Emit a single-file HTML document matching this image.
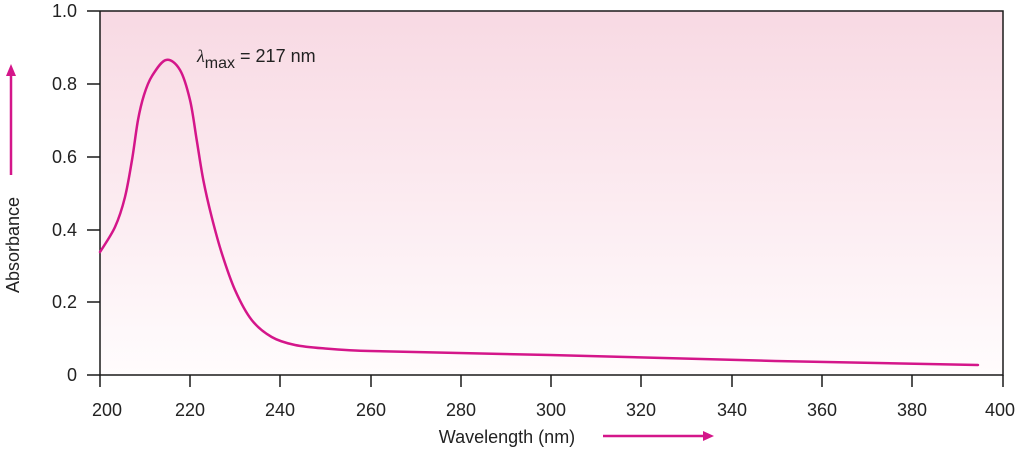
<!DOCTYPE html>
<html><head><meta charset="utf-8"><style>
html,body{margin:0;padding:0;background:#fff;}
svg{display:block;font-family:"Liberation Sans","DejaVu Sans",sans-serif;}
</style></head><body>
<svg width="1024" height="450" viewBox="0 0 1024 450" xmlns="http://www.w3.org/2000/svg">
<defs>
<linearGradient id="bg" x1="0" y1="0" x2="0" y2="1">
<stop offset="0" stop-color="#f8d9e3"/>
<stop offset="1" stop-color="#fffcfd"/>
</linearGradient>
</defs>
<rect x="100" y="11" width="903" height="364" fill="url(#bg)"/>
<g stroke="#1a1a1a" stroke-width="1.5" fill="none">
<path d="M87 11 H1003 V375 H100 V11"/>
<path d="M87 84H100M87 157H100M87 230H100M87 302H100M87 375H100"/>
<path d="M100 375V387M190 375V387M280 375V387M371 375V387M461 375V387M551 375V387M641 375V387M732 375V387M822 375V387M912 375V387M1003 375V387"/>
</g>
<path fill="none" stroke="#d4168a" stroke-width="2.5" stroke-linecap="round" stroke-linejoin="round"
d="M100 252 C102.5 247.8 110.8 236.2 115 227 C119.2 217.8 122.2 208.2 125 197 C127.8 185.8 129.8 172.8 132 160 C134.2 147.2 136 130.8 138 120 C140 109.2 141.7 102.3 144 95 C146.3 87.7 148.3 81.8 152 76 C155.7 70.2 161.3 61 166 60 C170.7 58.8 176 63.3 180 70 C184 76.7 187.2 88.3 190 100 C192.8 111.7 194.5 126.7 196.7 140 C198.9 153.3 200.8 167.2 203.3 180 C205.8 192.8 208.6 204.8 211.7 217 C214.8 229.2 217.8 240.8 221.7 253 C225.6 265.2 230 278.8 235 290 C240 301.2 245.6 312.2 251.7 320 C257.8 327.8 264.5 332.8 271.7 337 C278.9 341.2 286.1 343.1 295 345 C303.9 346.9 312.5 347.5 325 348.5 C337.5 349.5 355 350.7 370 351 L550 355 L775 361 L978 365"/>
<g font-size="18" fill="#222" text-anchor="end">
<text x="77" y="17">1.0</text><text x="77" y="90">0.8</text><text x="77" y="163">0.6</text>
<text x="77" y="236">0.4</text><text x="77" y="308">0.2</text><text x="77" y="381">0</text>
</g>
<g font-size="18" fill="#222" text-anchor="middle">
<text x="107" y="416">200</text><text x="190" y="416">220</text><text x="280" y="416">240</text>
<text x="371" y="416">260</text><text x="461" y="416">280</text><text x="551" y="416">300</text>
<text x="641" y="416">320</text><text x="732" y="416">340</text><text x="822" y="416">360</text>
<text x="912" y="416">380</text><text x="1000" y="416">400</text>
</g>
<text x="507" y="443" font-size="18" fill="#222" text-anchor="middle">Wavelength (nm)</text>
<path d="M603 436H705" stroke="#d4168a" stroke-width="2.5"/>
<path d="M703 431L714 436L703 441Z" fill="#d4168a"/>
<text transform="translate(19,245) rotate(-90)" font-size="18" fill="#222" text-anchor="middle">Absorbance</text>
<path d="M11 175V74" stroke="#d4168a" stroke-width="2.5"/>
<path d="M6 76L11 64L16 76Z" fill="#d4168a"/>
<text x="197" y="62" font-size="18" fill="#222"><tspan font-style="italic" font-family="Liberation Serif,serif">λ</tspan><tspan font-size="16" dy="6">max</tspan><tspan dy="-6"> = 217 nm</tspan></text>
</svg>
</body></html>
